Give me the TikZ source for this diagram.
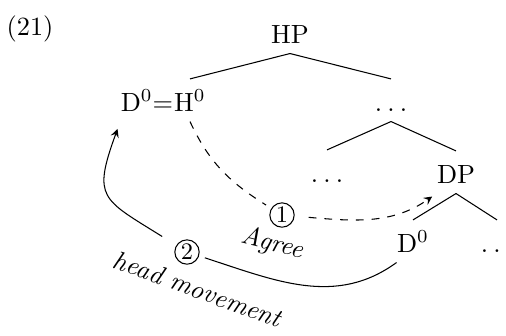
\documentclass[tikz,border=0pt]{standalone}
\newcommand{\tdots}{.\kern2pt.\kern2pt.}

\begin{document}
\begin{tikzpicture}[x=0.38pt, y=0.38pt,
    cat/.style={anchor=base, inner sep=0pt, text height=12pt, text depth=3.8pt},
    circnum/.style={circle, draw, inner sep=0.6pt, outer sep=2.5pt, font=\small},
    gloss/.style={font=\itshape}]
  \useasboundingbox (0,0) rectangle (506,335);
  \node [anchor=base] (ex) at (30,300) {(21)};
  % the tree
  \node [cat] (hp)    at (290,292) {HP};
  \node [cat] (h)     at (190,224) {H$^0$};
  \node [cat, anchor=base east] (hd) at (h.base west) {D$^0$=};
  \node [cat] (dots1) at (391,224) {\tdots};
  \node [cat] (dots2) at (327,153) {\tdots};
  \node [cat] (dp)    at (456,152) {DP};
  \node [cat] (d)     at (413,83)  {D$^0$};
  \node [cat] (dots3) at (497,83)  {\tdots};
  \draw (hp.south) -- (h.north);
  \draw (hp.south) -- (dots1.north);
  \draw (dots1.south) -- (dots2.north);
  \draw (dots1.south) -- (dp.north);
  \draw (dp.south) -- (d.north);
  \draw (dp.south) -- (dots3.north);
  % the two dependencies
  \node [circnum] (one) at (282,120) {1};
  \node [circnum] (two) at (187,83)  {2};
  \node [gloss, rotate=-14] (agree) at (272,91) {Agree};
  \node [gloss, rotate=-20] (hmove) at (198,46) {head movement};
  \draw [dashed, -stealth, shorten <=3pt, shorten >=2pt]
    (h.south) to[out=-65, in=148] (one)
    to[out=-5, in=215] (dp.south west);
  \draw [-stealth, shorten <=4pt, shorten >=3pt]
    (d.south west) to[out=216, in=-18] (two)
    to[out=148, in=250, looseness=1.6] (hd.south west);
\end{tikzpicture}
\end{document}
